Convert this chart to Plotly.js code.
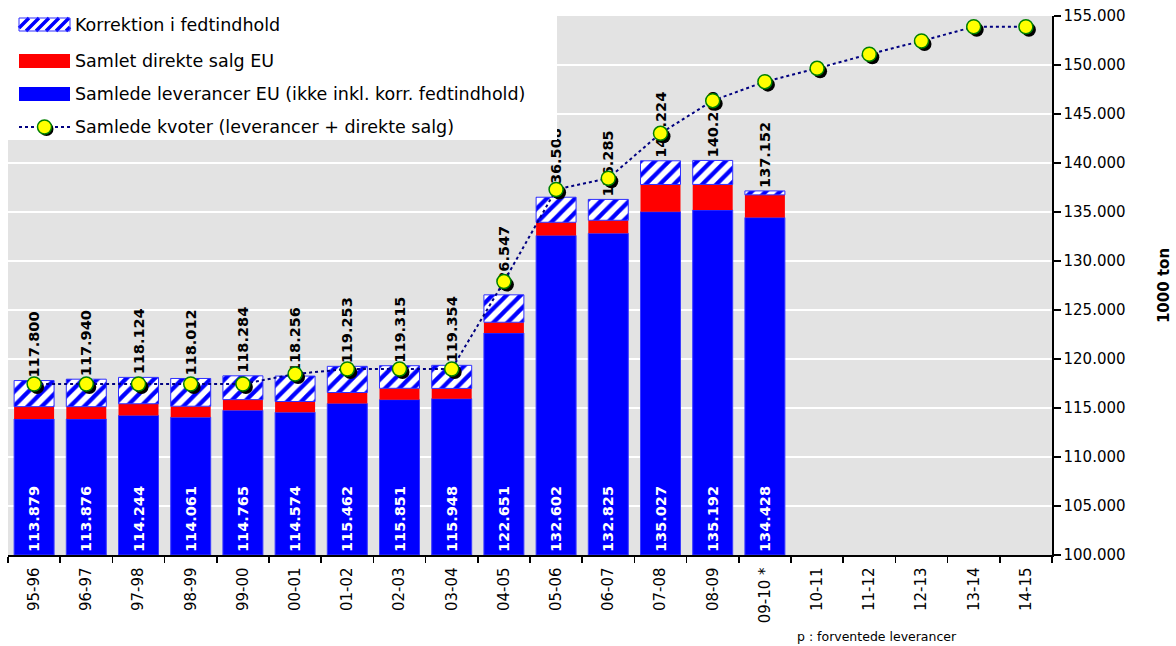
<!DOCTYPE html>
<html>
<head>
<meta charset="utf-8">
<script src="https://cdn.plot.ly/plotly-3.0.1.min.js"></script>
<style>html,body{margin:0;padding:0;background:#fff;}#chart{width:1176px;height:646px;}</style>
</head>
<body>
<div id="chart"></div>
<script>
// ---- data (1000 ton) ----
var seasons = ["95-96","96-97","97-98","98-99","99-00","00-01","01-02","02-03","03-04","04-05","05-06","06-07","07-08","08-09","09-10 *"];
var allSeasons = ["95-96","96-97","97-98","98-99","99-00","00-01","01-02","02-03","03-04","04-05","05-06","06-07","07-08","08-09","09-10 *","10-11","11-12","12-13","13-14","14-15"];
var leverancer = [113.879,113.876,114.244,114.061,114.765,114.574,115.462,115.851,115.948,122.651,132.602,132.825,135.027,135.192,134.428];
var direkteSalg = [1.26,1.26,1.19,1.12,1.09,1.09,1.12,1.16,1.05,1.10,1.35,1.33,2.78,2.62,2.32];
var totaler = [117.800,117.940,118.124,118.012,118.284,118.256,119.253,119.315,119.354,126.547,136.508,136.285,140.224,140.260,137.152];
var kvoter = [117.45,117.45,117.45,117.45,117.45,118.47,118.98,118.98,118.98,127.9,137.3,138.44,143.03,146.36,148.3,149.66,151.1,152.45,153.9,153.9];
var names = {
  korr: "Korrektion i fedtindhold",
  salg: "Samlet direkte salg EU",
  lev: "Samlede leverancer EU (ikke inkl. korr. fedtindhold)",
  kvote: "Samlede kvoter (leverancer + direkte salg)"
};
var footnote = "p : forventede leverancer";

var FONT = "DejaVu Sans, Verdana, sans-serif";
var W = 1176, H = 646, ML = 8, MR = 124, MT = 16, MB = 91;
var plotW = W - ML - MR, plotH = H - MT - MB;
var yMin = 100, yMax = 155;

// derived segment bases / lengths (the axis starts at 100, so the blue bars start there)
var salgBase = leverancer.slice();
var korrBase = leverancer.map(function(v, i){ return v + direkteSalg[i]; });
var korrektion = totaler.map(function(t, i){ return t - korrBase[i]; });
var levLength = leverancer.map(function(v){ return v - yMin; });
function fmt(v){ return v.toFixed(3); }

var shX = 3 / (plotW / allSeasons.length);
var shY = 3 * (yMax - yMin) / plotH;
function px(x){ return (x - ML) / plotW; }
function py(y){ return (H - MB - y) / plotH; }

var traces = [
  {
    type: "bar", name: names.lev, x: seasons, y: levLength, base: yMin,
    marker: {color: "#0000ff", line: {color: "#3a3aff", width: 1}},
    text: leverancer.map(fmt), textposition: "inside", insidetextanchor: "start",
    textangle: -90, constraintext: "none",
    insidetextfont: {family: FONT, size: 14.5, color: "#ffffff", weight: "bold"},
    showlegend: false, hoverinfo: "skip"
  },
  {
    type: "bar", name: names.salg, x: seasons, y: direkteSalg, base: salgBase,
    marker: {color: "#ff0000", line: {width: 0}},
    showlegend: false, hoverinfo: "skip"
  },
  {
    type: "bar", name: names.korr, x: seasons, y: korrektion, base: korrBase,
    marker: {color: "#ffffff", line: {color: "#2f2fff", width: 1},
      pattern: {shape: "/", fgcolor: "#0000ff", bgcolor: "#ffffff", size: 10, solidity: 0.42}},
    text: totaler.map(fmt), textposition: "outside", textangle: -90, constraintext: "none",
    outsidetextfont: {family: FONT, size: 14.5, color: "#000000", weight: "bold"},
    cliponaxis: false, showlegend: false, hoverinfo: "skip"
  },
  {
    type: "scatter", mode: "markers", x: allSeasons, y: kvoter, xaxis: "x2", yaxis: "y2",
    marker: {size: 14, color: "#000000", line: {width: 0}},
    showlegend: false, cliponaxis: false, hoverinfo: "skip"
  },
  {
    type: "scatter", mode: "lines+markers", name: names.kvote, x: allSeasons, y: kvoter,
    xaxis: "x3", yaxis: "y3",
    line: {color: "#000080", width: 2, dash: "dot"},
    marker: {size: 14, color: "#ffff00", line: {color: "#008000", width: 1.5}},
    cliponaxis: false, showlegend: false, hoverinfo: "skip"
  }
];

var hiddenX = function(r){ return {overlaying: "x", type: "category", categoryorder: "array", categoryarray: allSeasons, range: r, visible: false, fixedrange: true}; };
var hiddenY = function(r){ return {overlaying: "y", range: r, visible: false, fixedrange: true}; };

// ---- custom legend (wide swatches as in the original) ----
var sw0 = 19, sw1 = 70, textX = 73;
var rows = [25, 61, 94, 127];
var legendShapes = [
  {type: "rect", xref: "paper", yref: "paper", x0: 0, x1: px(557), y0: py(140), y1: 1.05,
   fillcolor: "#ffffff", line: {width: 0}, layer: "above"}
];
(function(){
  var top = rows[0] - 7, bot = rows[0] + 6, h = bot - top, d = "";
  legendShapes.push({type: "rect", xref: "paper", yref: "paper", x0: px(sw0), x1: px(sw1), y0: py(bot), y1: py(top),
    fillcolor: "#ffffff", line: {width: 0}, layer: "above"});
  for (var b = sw0 - h; b < sw1; b += 10) {
    var xa = b, ya = bot, xb = b + h, yb = top;
    if (xa < sw0) { ya = bot - (sw0 - xa); xa = sw0; }
    if (xb > sw1) { yb = top + (xb - sw1); xb = sw1; }
    d += "M" + px(xa) + "," + py(ya) + "L" + px(xb) + "," + py(yb);
  }
  legendShapes.push({type: "path", xref: "paper", yref: "paper", path: d, line: {color: "#0000ff", width: 3.5}, layer: "above"});
  legendShapes.push({type: "rect", xref: "paper", yref: "paper", x0: px(sw0), x1: px(sw1), y0: py(bot), y1: py(top),
    fillcolor: "rgba(0,0,0,0)", line: {color: "#2f2fff", width: 1}, layer: "above"});
})();
legendShapes.push({type: "rect", xref: "paper", yref: "paper", x0: px(sw0), x1: px(sw1), y0: py(rows[1] + 7), y1: py(rows[1] - 7),
  fillcolor: "#ff0000", line: {width: 0}, layer: "above"});
legendShapes.push({type: "rect", xref: "paper", yref: "paper", x0: px(sw0), x1: px(sw1), y0: py(rows[2] + 7), y1: py(rows[2] - 7),
  fillcolor: "#0000ff", line: {width: 0}, layer: "above"});
legendShapes.push({type: "line", xref: "paper", yref: "paper", x0: px(sw0), x1: px(sw1), y0: py(rows[3]), y1: py(rows[3]),
  line: {color: "#000080", width: 2, dash: "dot"}, layer: "above"});
legendShapes.push({type: "circle", xref: "paper", yref: "paper", x0: px(44.5 - 7 + 2), x1: px(44.5 + 7 + 2), y0: py(rows[3] + 7 + 2), y1: py(rows[3] - 7 + 2),
  fillcolor: "#000000", line: {width: 0}, layer: "above"});
legendShapes.push({type: "circle", xref: "paper", yref: "paper", x0: px(44.5 - 7), x1: px(44.5 + 7), y0: py(rows[3] + 7), y1: py(rows[3] - 7),
  fillcolor: "#ffff00", line: {color: "#008000", width: 1.5}, layer: "above"});

var legendTexts = [names.korr, names.salg, names.lev, names.kvote].map(function(t, i){
  return {xref: "paper", yref: "paper", x: px(textX), y: py(rows[i]), text: t, showarrow: false,
    xanchor: "left", yanchor: "middle", font: {family: FONT, size: 17.5, color: "#000000"}};
});

var layout = {
  width: W, height: H,
  margin: {l: ML, r: MR, t: MT, b: MB, pad: 0},
  paper_bgcolor: "#ffffff", plot_bgcolor: "#e3e3e3",
  font: {family: FONT, size: 15, color: "#000000"},
  barmode: "overlay", bargap: 0.234,
  showlegend: false,
  xaxis: {
    type: "category", categoryorder: "array", categoryarray: allSeasons,
    range: [-0.5, allSeasons.length - 0.5],
    tickson: "boundaries", ticks: "outside", ticklen: 6, tickwidth: 1.5, tickcolor: "#000000",
    ticklabelstandoff: 5,
    showline: true, linecolor: "#000000", linewidth: 1.5,
    showgrid: false, tickangle: -90,
    tickfont: {family: FONT, size: 15, color: "#000000"}, fixedrange: true
  },
  yaxis: {
    side: "right", range: [yMin, yMax], dtick: 5, tick0: 100,
    tickformat: ".3f",
    showgrid: true, gridcolor: "#ffffff", gridwidth: 2,
    showline: true, linecolor: "#000000", linewidth: 1.5,
    ticks: "outside", ticklen: 7, tickwidth: 1.5, tickcolor: "#000000",
    zeroline: false,
    tickfont: {family: FONT, size: 15, color: "#000000"},
    title: {text: "1000 ton", font: {family: FONT, size: 15, color: "#000000", weight: "bold"}, standoff: 34},
    fixedrange: true
  },
  xaxis2: hiddenX([-0.5 - shX, allSeasons.length - 0.5 - shX]),
  yaxis2: hiddenY([yMin + shY, yMax + shY]),
  xaxis3: hiddenX([-0.5, allSeasons.length - 0.5]),
  yaxis3: hiddenY([yMin, yMax]),
  shapes: legendShapes,
  annotations: legendTexts.concat([
    {xref: "paper", yref: "paper", x: px(877), y: py(636), text: footnote,
     showarrow: false, xanchor: "center", yanchor: "middle",
     font: {family: FONT, size: 12.5, color: "#000000"}}
  ])
};

Plotly.newPlot("chart", traces, layout, {displayModeBar: false, staticPlot: true});
</script>
</body>
</html>
